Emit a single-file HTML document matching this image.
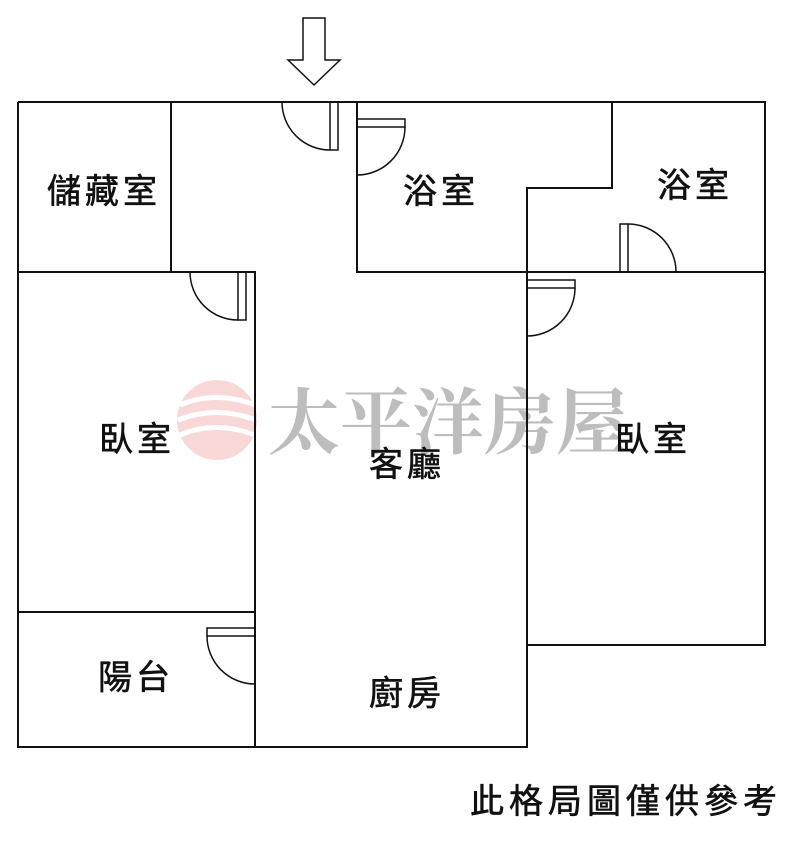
<!DOCTYPE html>
<html><head><meta charset="utf-8"><style>
body{margin:0;background:#fff;width:800px;height:842px;overflow:hidden}
svg{display:block}
text{font-family:"Liberation Sans","Noto Sans CJK TC",sans-serif;font-size:34px;fill:#111;text-anchor:middle;letter-spacing:4px;stroke:#111;stroke-width:0.6}
</style></head><body>
<svg width="800" height="842" viewBox="0 0 800 842">
<g opacity="0.55">
<circle cx="217" cy="420" r="40" fill="#f4b8b8"/>
<path d="M180 405 q35 -15 75 0 M178 420 q38 -15 78 0 M180 435 q35 -15 75 0" stroke="#fff" stroke-width="5" fill="none"/>
</g>
<text x="448" y="448" style="font-family:'Noto Serif CJK SC','Liberation Serif',serif;font-size:72px;fill:#bdbdbd;stroke:none;font-weight:bold;letter-spacing:0">太平洋房屋</text>
<g stroke="#111" stroke-width="2" fill="none">
<path d="M303 18 H325 V60 H340 L314 85 L288 60 H303 Z" stroke-width="1.5"/>
<path d="M18 102 H765 V645 H527"/>
<path d="M18 102 V747 H527 V272"/>
<path d="M18 272 H255 V747"/>
<path d="M171 102 V272"/>
<path d="M357 102 V272 H765"/>
<path d="M612 102 V188 H527 V272"/>
<path d="M18 612 H255"/>
<g stroke-width="1.5">
<rect x="330" y="102" width="8" height="48"/><path d="M282 102 A48 48 0 0 0 330 150"/>
<rect x="357" y="119" width="48" height="8"/><path d="M405 127 A48 48 0 0 1 357 175"/>
<rect x="620" y="224" width="8" height="48"/><path d="M628 224 A48 48 0 0 1 676 272"/>
<rect x="238" y="272" width="8" height="48"/><path d="M190 272 A48 48 0 0 0 238 320"/>
<rect x="527" y="280" width="48" height="8"/><path d="M575 288 A48 48 0 0 1 527 336"/>
<rect x="207" y="628" width="48" height="8"/><path d="M207 636 A48 48 0 0 0 255 684"/>
</g>
</g>
<text x="104" y="203">儲藏室</text>
<text x="441" y="203">浴室</text>
<text x="695" y="197">浴室</text>
<text x="137" y="451">臥室</text>
<text x="407" y="476">客廳</text>
<text x="653" y="451">臥室</text>
<text x="136" y="689">陽台</text>
<text x="407" y="705">廚房</text>
<text x="626" y="813" style="font-size:34px;letter-spacing:5px">此格局圖僅供參考</text>
</svg>
</body></html>
